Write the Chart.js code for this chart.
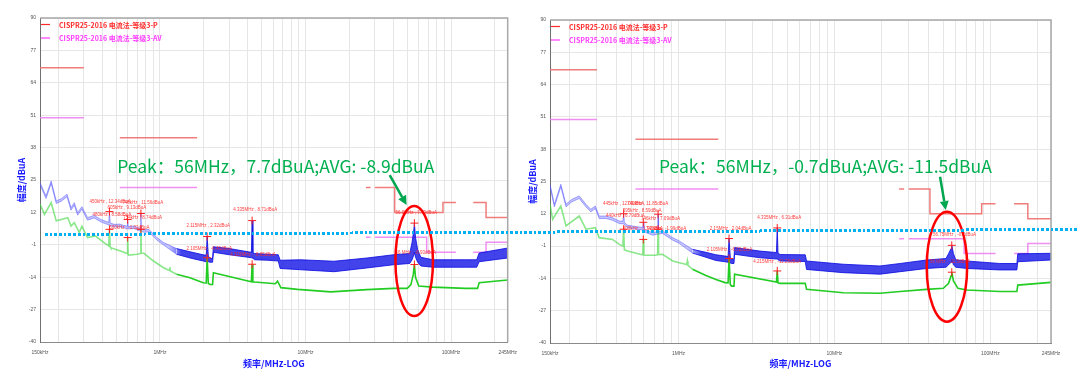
<!DOCTYPE html>
<html>
<head>
<meta charset="utf-8">
<title>CISPR25 电流法</title>
<script src="https://cdn.jsdelivr.net/npm/chart.js@4.4.1/dist/chart.umd.min.js"></script>
<style>
  html, body { margin: 0; padding: 0; background: #fff; }
  #main { position: relative; width: 1080px; height: 384px; overflow: hidden; }
  #left { position: absolute; left: 0; top: 0; }
  #right { position: absolute; left: 522px; top: 0; }
  #cut { position: absolute; left: 45px; top: 232.5px; width: 1033px; height: 3px;
    background: repeating-linear-gradient(90deg, #00b0f0 0 2.7px, transparent 2.7px 4.7px);
    transform-origin: 0 50%; transform: rotate(-0.28deg); }
</style>
</head>
<body>
<div id="main">
  <canvas id="left" width="525" height="384"></canvas>
  <canvas id="right" width="558" height="384"></canvas>
  <div id="cut"></div>
</div>
<script>
// axes
const yTicks = [-40, -27, -14, -1, 12, 25, 38, 51, 64, 77, 90]
const xGrid = [0.15, 0.2, 0.3, 0.4, 0.5, 0.6, 0.7, 0.8, 0.9, 1, 2, 3, 4, 5, 6, 7, 8, 9, 10, 20, 30, 40, 50, 60, 70, 80, 90, 100, 200, 245]
const xTickVals = [0.15, 1, 10, 100, 245]
const xTickText = ["150kHz", "1MHz", "10MHz", "100MHz", "245MHz"]
const xTitle = "频率/MHz-LOG"
const yTitle = "幅度/dBuA"

// CISPR25-2016 limit lines: [start MHz, end MHz, dBuA]
const limitPeakLabel = "CISPR25-2016 电流法-等级3-P"
const limitAvLabel = "CISPR25-2016 电流法-等级3-AV"
const limitPeak = [[0.15, 0.3, 70], [0.53, 1.8, 42], [26, 28, 22], [30, 41, 22], [41, 88, 12], [88, 108, 16], [142, 174, 16], [174, 245, 10]]
const limitAv = [[0.15, 0.3, 50], [0.53, 1.8, 22], [26, 28, 2], [30, 68, 2], [68, 108, -4], [142, 174, -4], [174, 245, 0]]

// left chart, peak trace (upper / lower edge of the noise band)
const leftPkFreq = [0.15, 0.165, 0.179, 0.194, 0.21, 0.23, 0.245, 0.258, 0.272, 0.291, 0.318, 0.353, 0.392, 0.42, 0.445, 0.45, 0.455, 0.483, 0.526, 0.56, 0.595, 0.6, 0.605, 0.663, 0.708, 0.735, 0.74, 0.745, 0.779, 0.838, 0.953, 1.06, 1.3, 1.61, 1.98, 2.08, 2.11, 2.15, 2.21, 2.3, 2.33, 3.0, 4.03, 4.25, 4.3, 4.35, 4.47, 5.5, 6.5, 6.7, 9.25, 15.7, 26.4, 40.2, 52, 54, 55.5, 56, 57, 59, 62, 75, 126, 150, 156, 245]
const leftPkHi = [24, 18.6, 24.6, 16.6, 17.5, 19.3, 13.9, 15.9, 11.9, 14.3, 9.9, 10.8, 9.2, 8.5, 8, 12.3, 7.8, 7.2, 7.3, 6.8, 6.5, 9.1, 6.4, 6.5, 5.8, 5.6, 11.6, 5.4, 5.0, 5.2, 1.9, -0.1, -2.5, -3.8, -5, -5.2, 2.3, -5.5, -6.5, -6.5, -1.8, -2.5, -3.8, -4, 8.7, -4.2, -4.5, -4.8, -5, -7.2, -7, -7.6, -6.3, -5, -4.5, 0, 5, 7.7, 2, -3, -6, -7, -7, -7, -4.3, -2.3]
const leftPkLo = [23, 17.6, 23.6, 15.6, 16.5, 18.3, 12.9, 14.9, 10.9, 13.3, 8.9, 9.8, 8.2, 7.5, 7, 7, 6.8, 6.2, 6.3, 5.8, 5.5, 5.5, 5.4, 5.5, 4.8, 4.6, 4.5, 4.4, 4, 4.2, 0.9, -1.1, -4.8, -6.3, -7.5, -7.8, -7.8, -7.8, -8, -8, -4, -5, -6, -6.2, -6.2, -6.4, -7, -7.2, -7.5, -10.5, -11, -11.8, -10.3, -9, -8.5, -7, -5, -4, -6, -8, -9.5, -10, -10, -10, -7.8, -6.3]
// left chart, average trace
const leftAvFreq = [0.15, 0.161, 0.179, 0.194, 0.233, 0.245, 0.258, 0.279, 0.291, 0.318, 0.362, 0.413, 0.445, 0.45, 0.455, 0.459, 0.536, 0.595, 0.6, 0.605, 0.61, 0.697, 0.735, 0.74, 0.745, 0.776, 0.903, 1.06, 1.16, 1.17, 1.18, 1.3, 1.61, 1.98, 2.08, 2.11, 2.15, 2.21, 2.3, 2.33, 4.03, 4.25, 4.3, 4.35, 4.47, 6.2, 6.43, 6.6, 6.77, 8.83, 14.9, 26.4, 40.2, 50, 53, 55, 56, 57, 60, 75, 126, 152, 156, 245]
const leftAv = [15.3, 11.2, 15.9, 8.6, 9.9, 6.5, 7.9, 3.9, 6.5, 1.9, 2.5, -0.1, -1.5, 5.2, -1.8, -2.2, -3.5, -4.5, 1.9, -5, -5.1, -4.8, -4.5, 5.2, -4.4, -4.4, -7.5, -10.2, -11.3, -10, -11.5, -12.8, -14.2, -16.2, -16.3, -6.2, -16.5, -16.9, -16.9, -12.2, -15.5, -15.8, -8.8, -15.8, -15.9, -16.6, -15.6, -16.9, -18.2, -18.9, -19.9, -19, -18.5, -18.5, -17, -13, -8.9, -14, -17.5, -18, -18.5, -18.5, -16.2, -15.1]
// left chart markers
const leftMkFreq = [0.45, 0.6, 0.74, 2.11, 4.3, 56]
const leftMkPk = [12.34, 9.13, 11.56, 2.32, 8.71, 7.7]
const leftMkAv = [5.2, 1.9, 5.2, -6.2, -8.8, -8.9]

// right chart, peak trace
const rightPkFreq = [0.15, 0.16, 0.176, 0.19, 0.207, 0.231, 0.255, 0.274, 0.293, 0.31, 0.343, 0.378, 0.417, 0.44, 0.445, 0.45, 0.472, 0.54, 0.59, 0.595, 0.6, 0.619, 0.684, 0.735, 0.74, 0.745, 0.79, 0.919, 1.01, 1.23, 1.5, 1.74, 1.99, 2.08, 2.11, 2.15, 2.19, 2.27, 2.29, 3.33, 4.25, 4.3, 4.35, 4.48, 6.5, 6.63, 11.4, 19.6, 26.4, 39, 52, 54, 56, 56.6, 58, 60, 70.6, 115, 148, 150, 245]
const rightPkHi = [23.9, 15.8, 23.9, 15.8, 17.8, 19.2, 15.8, 13.8, 15.1, 11.1, 11.1, 10.4, 9.1, 9, 12.0, 8.5, 7.4, 6.8, 6.5, 8.6, 6.2, 5.4, 4.4, 4.8, 11.85, 4.8, 5.1, 2.4, 1.1, -2.3, -3.5, -4.5, -5, -5.2, 2.0, -5.5, -6.3, -6.3, -1.6, -3, -3.6, 6.3, -3.8, -4.4, -4.5, -7, -8.3, -9, -8, -6.6, -6, -4, -2, -0.7, -4, -6.5, -7, -8, -8, -4.1, -3.9]
const rightPkLo = [22.9, 14.8, 22.9, 14.8, 16.8, 18.2, 14.8, 12.8, 14.1, 10.1, 10.1, 9.4, 8.1, 8, 8, 7.5, 6.4, 5.8, 5.5, 5.5, 5.2, 4.4, 3.4, 3.8, 3.8, 3.8, 4.1, 1.4, 0.1, -3.8, -5.5, -6.8, -7.3, -7.5, -7.5, -7.8, -8, -8, -4.3, -5.7, -6.2, -6.2, -6.5, -7, -7.2, -10.4, -11.7, -12.3, -11.3, -10, -9.5, -8.5, -7.5, -6.5, -8.5, -9.5, -10, -10.6, -10.6, -7.3, -6.6]
// right chart, average trace
const rightAvFreq = [0.15, 0.156, 0.176, 0.19, 0.231, 0.255, 0.293, 0.31, 0.378, 0.417, 0.44, 0.445, 0.45, 0.472, 0.567, 0.59, 0.595, 0.6, 0.619, 0.707, 0.735, 0.74, 0.745, 0.79, 0.919, 1.01, 1.13, 1.14, 1.15, 1.23, 1.5, 1.74, 1.99, 2.08, 2.11, 2.15, 2.19, 2.27, 2.29, 4.25, 4.3, 4.35, 4.48, 6.5, 6.63, 11.4, 19.6, 26.4, 39, 50, 54, 56, 56.6, 58, 62, 70.6, 115, 148, 150, 245]
const rightAv = [15.8, 9.8, 15.1, 7.1, 11.1, 5.8, 6.4, 2.4, 1.7, -0.3, -1, 5.8, -2.5, -3, -4.3, -4.5, 1.7, -4.6, -4.7, -4.7, -4.5, 5.8, -4.4, -4.3, -7, -7.7, -8.4, -7, -8.8, -10.3, -12.8, -14.4, -15.7, -15.8, -6, -16.5, -17.1, -17.1, -12.3, -15.5, -11, -15.8, -16, -16, -18.4, -19.8, -20, -19.3, -18.4, -18, -16, -13, -11.5, -15, -18, -18.7, -19.3, -19.3, -16.7, -15.6]
// right chart markers
const rightMkFreq = [0.445, 0.595, 0.74, 2.11, 4.3, 56.6]
const rightMkPk = [12.03, 8.59, 11.85, 2.04, 6.31, -0.7]
const rightMkAv = [5.8, 1.7, 5.8, -6, -11, -11.5]

// marker readouts: [text, MHz, dBuA] of the text anchor
const leftNotes = [
	["450kHz , 12.34dBuA", 0.328, 16.3],
	["746kHz , 11.56dBuA", 0.551, 15.8],
	["605kHz , 9.13dBuA", 0.436, 13.8],
	["480kHz , 8.58dBuA", 0.344, 11.0],
	["754kHz , 8.74dBuA", 0.559, 9.8],
	["600kHz , -1.02dBuA", 0.449, 5.9],
	["2.115MHz , 2.32dBuA", 1.52, 6.7],
	["2.105MHz , -6.45dBuA", 1.52, -2.4],
	["4.335MHz , 8.71dBuA", 3.19, 13],
	["4.315MHz , -8.85dBuA", 3.04, -5.1],
	["56.0MHz , 7.70dBuA", 41.6, 12],
	["56 MHz , -8.93dBuA", 41.6, -4.2]
]
const rightNotes = [
	["445kHz , 12.03dBuA", 0.328, 16.1],
	["740kHz , 11.85dBuA", 0.47, 16.1],
	["595kHz , 8.59dBuA", 0.439, 13.1],
	["440kHz , 6.79dBuA", 0.343, 11.1],
	["746kHz , 7.09dBuA", 0.576, 10],
	["600kHz , -1.92dBuA", 0.439, 6],
	["740kHz , -1.99dBuA", 0.62, 6],
	["2.15MHz , 2.04dBuA", 1.59, 5.9],
	["2.105MHz , -6.02dBuA", 1.52, -2.3],
	["4.335MHz , 6.31dBuA", 3.2, 10.4],
	["4.215MHz , -11.26dBuA", 3.02, -7.4],
	["56.75MHz , -0.7dBuA", 42.9, 3.5],
	["56 MHz , -11.5dBuA", 41, -7.3]
]

const leftCallout = "Peak：56MHz，7.7dBuA;AVG: -8.9dBuA"
const rightCallout = "Peak：56MHz，-0.7dBuA;AVG: -11.5dBuA"

Chart.defaults.font.family = '"Liberation Sans", Arial, sans-serif'

function toPts(fs, vs) {
	return fs.map((f, i) => ({x: f, y: vs[i]}))
}

// joins touching segments with a vertical step, leaves a gap otherwise
function stepPoints(segs) {
	let pts = []
	let lastEnd = null
	for (const [a, b, v] of segs) {
		if (lastEnd !== null && lastEnd !== a) pts.push({x: Math.sqrt(lastEnd * a), y: null})
		pts.push({x: a, y: v}, {x: b, y: v})
		lastEnd = b
	}
	return pts
}

function overlay(cfg) {
	return {
		id: "overlay",
		afterDatasetsDraw(chart) {
			const {ctx, chartArea: ca} = chart
			const sx = chart.scales.x, sy = chart.scales.y
			const P = (f, v) => [sx.getPixelForValue(f), sy.getPixelForValue(v)]
			ctx.save()

			// plot frame, top and right
			ctx.strokeStyle = "#a8a8a8"
			ctx.lineWidth = 1.5
			ctx.beginPath()
			ctx.moveTo(ca.left, ca.top)
			ctx.lineTo(ca.right, ca.top)
			ctx.lineTo(ca.right, ca.bottom)
			ctx.stroke()

			// legend in the corner
			chart.data.datasets.filter(ds => ds.legendColor).forEach((ds, i) => {
				const ly = ca.top + 6.5 + i * 13.5
				ctx.strokeStyle = ds.legendColor
				ctx.lineWidth = 1.2
				ctx.beginPath()
				ctx.moveTo(ca.left + 1, ly)
				ctx.lineTo(ca.left + 10, ly)
				ctx.stroke()
				ctx.fillStyle = ds.legendColor
				ctx.font = 'bold 7px "Noto Sans CJK SC"'
				ctx.textAlign = "left"
				ctx.textBaseline = "middle"
				ctx.fillText(ds.label, ca.left + 19, ly + 0.5)
			})

			// marker readouts
			ctx.font = '4.5px "Liberation Sans"'
			ctx.fillStyle = "rgba(255,40,40,0.9)"
			ctx.textBaseline = "middle"
			for (const [t, f, v] of cfg.notes) {
				const [nx, ny] = P(f, v)
				ctx.fillText(t, nx, ny)
			}

			// green callout
			ctx.font = '17.5px "Noto Sans CJK SC"'
			ctx.fillStyle = "#00b050"
			const [tx, ty] = P(cfg.calloutAt[0], cfg.calloutAt[1])
			ctx.fillText(cfg.callout, tx, ty)

			// arrow
			const [ax, ay] = P(cfg.arrow[0], cfg.arrow[1])
			const [bx, by] = P(cfg.arrow[2], cfg.arrow[3])
			const ang = Math.atan2(by - ay, bx - ax)
			const hx = bx - 9 * Math.cos(ang), hy = by - 9 * Math.sin(ang)
			ctx.strokeStyle = "#00a650"
			ctx.fillStyle = "#00a650"
			ctx.lineWidth = 2.5
			ctx.beginPath()
			ctx.moveTo(ax, ay)
			ctx.lineTo(hx, hy)
			ctx.stroke()
			ctx.beginPath()
			ctx.moveTo(bx, by)
			ctx.lineTo(hx + 4.5 * Math.sin(ang), hy - 4.5 * Math.cos(ang))
			ctx.lineTo(hx - 4.5 * Math.sin(ang), hy + 4.5 * Math.cos(ang))
			ctx.closePath()
			ctx.fill()

			// red ring round the 56MHz peak
			const [x1, y1] = P(cfg.ring[0], cfg.ring[2])
			const [x2, y2] = P(cfg.ring[1], cfg.ring[3])
			ctx.strokeStyle = "#ff0000"
			ctx.lineWidth = 2.5
			ctx.beginPath()
			ctx.ellipse((x1 + x2) / 2, (y1 + y2) / 2, Math.abs(x2 - x1) / 2, Math.abs(y2 - y1) / 2, 0, 0, Math.PI * 2)
			ctx.stroke()

			ctx.restore()
		}
	}
}

function bandFill(c) {
	const ch = c.chart
	if (!ch.chartArea) return "rgba(20,20,230,0.8)"
	const xs = ch.scales.x
	const g = ch.ctx.createLinearGradient(xs.getPixelForValue(1.15), 0, xs.getPixelForValue(1.4), 0)
	g.addColorStop(0, "rgba(110,110,255,0.4)")
	g.addColorStop(1, "rgba(20,20,230,0.8)")
	return g
}

function makeChart(id, d) {
	const ctx = document.getElementById(id).getContext("2d")
	const blueSeg = c => c.p0.parsed.x < 1.2 ? "rgba(80,80,255,0.55)" : "rgba(10,10,225,0.9)"
	const greenSeg = c => c.p0.parsed.x < 1.2 ? "rgba(60,215,60,0.6)" : "#22cc22"
	return new Chart(ctx, {
		type: "line",
		data: {
			datasets: [
				{label: "mkPk", data: toPts(d.mkFreq, d.mkPk), showLine: false, pointStyle: "cross", pointRadius: 4, pointBorderColor: "#ff2020", pointBorderWidth: 1, order: 0},
				{label: "mkAv", data: toPts(d.mkFreq, d.mkAv), showLine: false, pointStyle: "cross", pointRadius: 4, pointBorderColor: "#ff2020", pointBorderWidth: 1, order: 0},
				{label: "AV", data: toPts(d.avFreq, d.av), borderWidth: 1.6, pointRadius: 0, segment: {borderColor: greenSeg}, borderColor: "#22cc22", order: 2},
				{label: "PK", data: toPts(d.pkFreq, d.pkHi), borderWidth: 0.9, pointRadius: 0, segment: {borderColor: blueSeg}, borderColor: "#0a0ae6", fill: false, order: 3},
				{label: "PKlo", data: toPts(d.pkFreq, d.pkLo), borderWidth: 0.9, pointRadius: 0, segment: {borderColor: blueSeg}, borderColor: "#0a0ae6", fill: "-1", backgroundColor: bandFill, order: 3},
				{label: limitPeakLabel, data: stepPoints(limitPeak), borderColor: "rgba(238,110,110,0.9)", borderWidth: 1.5, pointRadius: 0, spanGaps: false, legendColor: "#ff2a2a", order: 5},
				{label: limitAvLabel, data: stepPoints(limitAv), borderColor: "rgba(240,130,240,0.9)", borderWidth: 1.5, pointRadius: 0, spanGaps: false, legendColor: "#ff3cff", order: 5}
			]
		},
		options: {
			responsive: false,
			animation: false,
			devicePixelRatio: 1,
			layout: {padding: {left: d.padL, top: d.padT, right: d.padR, bottom: 0}},
			elements: {line: {tension: 0}},
			plugins: {legend: {display: false}, tooltip: {enabled: false}},
			scales: {
				x: {
					type: "logarithmic",
					min: 0.15,
					max: 245,
					afterBuildTicks: s => { s.ticks = xGrid.map(v => ({value: v})) },
					afterFit: s => { s.height = 384 - d.bottom },
					ticks: {
						autoSkip: false,
						maxRotation: 0,
						padding: 8,
						color: "#555",
						font: {size: 5},
						callback: v => xTickText[xTickVals.indexOf(v)] ?? ""
					},
					grid: {color: "#e6e6e6", drawTicks: false},
					border: {color: "#8a8a8a"},
					title: {display: true, text: xTitle, color: "#1a1aff", font: {size: 9, weight: "bold", family: '"Noto Sans CJK SC"'}, padding: {top: 0, bottom: 15}}
				},
				y: {
					min: -40,
					max: 90,
					afterBuildTicks: s => { s.ticks = yTicks.map(v => ({value: v})) },
					afterFit: s => { s.width = d.yW },
					ticks: {padding: 4, color: "#555", font: {size: 5}},
					grid: {color: "#e6e6e6", drawTicks: false},
					border: {color: "#707070"},
					title: {display: true, text: yTitle, color: "#1a1aff", font: {size: 9, weight: "bold", family: '"Noto Sans CJK SC"'}, padding: {top: 0, bottom: 0}}
				}
			}
		},
		plugins: [overlay(d)]
	})
}

makeChart("left", {
	pkFreq: leftPkFreq, pkHi: leftPkHi, pkLo: leftPkLo,
	avFreq: leftAvFreq, av: leftAv,
	mkFreq: leftMkFreq, mkPk: leftMkPk, mkAv: leftMkAv,
	notes: leftNotes,
	callout: leftCallout, calloutAt: [0.509, 30.6],
	arrow: [37.9, 27, 49.5, 15],
	ring: [41.5, 75.1, 14.6, -29.6],
	padL: 16, padT: 18, padR: 13, yW: 24, bottom: 342
})

makeChart("right", {
	pkFreq: rightPkFreq, pkHi: rightPkHi, pkLo: rightPkLo,
	avFreq: rightAvFreq, av: rightAv,
	mkFreq: rightMkFreq, mkPk: rightMkPk, mkAv: rightMkAv,
	notes: rightNotes,
	callout: rightCallout, calloutAt: [0.75, 31.2],
	arrow: [47.6, 26.9, 51.8, 13.5],
	ring: [39.1, 71, 12.8, -31.4],
	padL: 5, padT: 20, padR: 29, yW: 23, bottom: 343
})
</script>
</body>
</html>
